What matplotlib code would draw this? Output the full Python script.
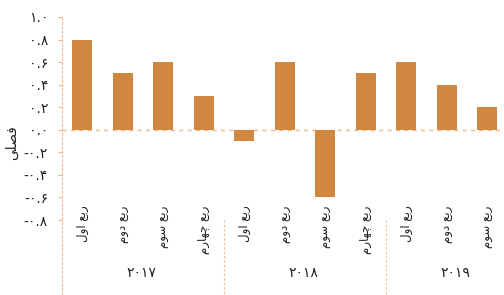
import matplotlib
matplotlib.use("Agg")
import matplotlib.pyplot as plt

# Data (quarterly change, percent)
years = ["۲۰۱۷", "۲۰۱۸", "۲۰۱۹"]
# presentation-form (visual order) Persian labels
q1 = "\uFEDD\uFEED\uFE8D \uFECA\uFE91\uFEAD"          # ربع اول
q2 = "\uFEE1\uFEED\uFEA9 \uFECA\uFE91\uFEAD"          # ربع دوم
q3 = "\uFEE1\uFEEE\uFEB3 \uFECA\uFE91\uFEAD"          # ربع سوم
q4 = "\uFEE1\uFEAD\uFE8E\uFEEC\uFB7C \uFECA\uFE91\uFEAD"  # ربع چهارم
categories = [q1, q2, q3, q4, q1, q2, q3, q4, q1, q2, q3]
values = [0.8, 0.5, 0.6, 0.3, -0.1, 0.6, -0.6, 0.5, 0.6, 0.4, 0.2]
group_sizes = [4, 4, 3]
ytick_vals = [1.0, 0.8, 0.6, 0.4, 0.2, 0.0, -0.2, -0.4, -0.6, -0.8]
ytick_labels = ["۱.۰", "۰.۸", "۰.۶", "۰.۴", "۰.۲", "۰.۰", "-۰.۲", "-۰.۴", "-۰.۶", "-۰.۸"]
ylabel = "\uFBFD\uFEE0\uFEBC\uFED3"  # فصلی

bar_color = "#D0873F"
line_color = "#F2B98F"

W, H = 504, 295
fig = plt.figure(figsize=(W / 100, H / 100), dpi=100)
ax_left, ax_right = 62, 504
ax_top, ax_bottom = 17, 295
ax = fig.add_axes([ax_left / W, 0, (ax_right - ax_left) / W, (H - ax_top) / H])

px_per_unit_x = 40.5
px_per_unit_y = 112.8
x0 = -0.5
x1 = x0 + (ax_right - ax_left) / px_per_unit_x
y1 = 1.0
y0 = 1.0 - (ax_bottom - ax_top) / px_per_unit_y
ax.set_xlim(x0, x1)
ax.set_ylim(y0, y1)

xs = list(range(len(values)))
ax.bar(xs, values, width=0.5, color=bar_color, zorder=3)

# zero line
ax.axhline(0, color=line_color, lw=1, ls=(0, (3, 3)), zorder=2)

for s in ["top", "right", "bottom"]:
    ax.spines[s].set_visible(False)
ax.spines["left"].set_color(line_color)
ax.spines["left"].set_linestyle((0, (2, 2)))
ax.spines["left"].set_linewidth(0.8)

ax.set_yticks(ytick_vals)
ax.set_yticklabels(ytick_labels, fontsize=10, color="#222222")
ax.tick_params(axis="y", length=3, color=line_color, pad=7)
ax.set_xticks([])

# separators between year groups
pos = 0
for g in group_sizes[:-1]:
    pos += g
    ax.plot([pos - 0.5, pos - 0.5], [-0.8, y0], color=line_color, lw=0.8,
            ls=(0, (2, 2)), zorder=2, clip_on=False)

# category labels
for x, lab in zip(xs, categories):
    ax.text(x, -0.67, lab, rotation=90, ha="center", va="top", fontsize=8.5,
            color="#222222", family="DejaVu Sans")

# year labels
year_x = [1.45, 5.45, 9.2]
for x, yl in zip(year_x, years):
    ax.text(x, -1.27, yl, ha="center", va="center", fontsize=10,
            color="#222222")

fig.text(12 / W, 1 - 143 / H, ylabel, rotation=90, ha="center", va="center",
         fontsize=10, color="#222222")

fig.savefig("out.png", dpi=100)
